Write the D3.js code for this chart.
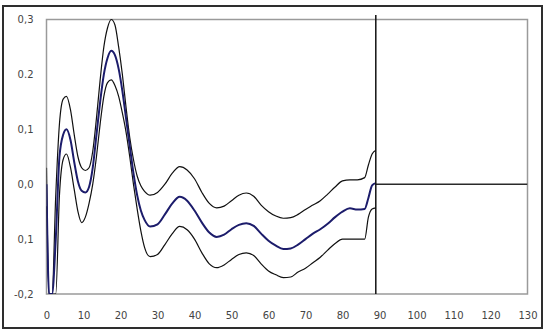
<!DOCTYPE html>
<html>
<head>
<meta charset="utf-8">
<script src="https://cdn.jsdelivr.net/npm/d3@7"></script>
<style>
  html, body { margin: 0; padding: 0; background: #fff; }
  svg { display: block; }
  .tick text { font-family: "DejaVu Sans", Verdana, sans-serif; font-size: 10px; fill: #444; }
</style>
</head>
<body>
<svg id="chart" width="545" height="331"></svg>
<script>
// Sample positions shared by the three series
const xValues = [0, 0.7, 1.5, 2.5, 3.5, 4.5, 5.4, 6.5, 7.5, 8.5, 9.5, 10.5, 11.5, 12.5, 13.5, 14.5,
  15.5, 16.5, 17.5, 18.5, 19.5, 20.5, 21.5, 22.5, 23.5, 24.5, 25.5, 26.5, 28, 30, 32, 34, 36, 38,
  40, 42, 44, 46, 48, 50, 52, 54, 56, 58, 60, 62, 64, 66, 68, 70, 72, 74, 76, 78, 80, 82, 84, 86,
  87, 88, 89];

// Upper confidence band
const upperValues = [0.03, -0.2, -0.2, -0.02, 0.11, 0.155, 0.16, 0.135, 0.09, 0.05, 0.03, 0.025,
  0.03, 0.06, 0.12, 0.19, 0.25, 0.285, 0.3, 0.29, 0.25, 0.2, 0.14, 0.085, 0.045, 0.015, -0.003,
  -0.013, -0.02, -0.015, 0.0, 0.02, 0.032, 0.026, 0.01, -0.015, -0.035, -0.043, -0.04, -0.03,
  -0.02, -0.016, -0.022, -0.038, -0.05, -0.058, -0.062, -0.061, -0.055, -0.046, -0.038, -0.03,
  -0.018, -0.005, 0.006, 0.008, 0.008, 0.012, 0.035, 0.055, 0.062];

// Mean response
const meanValues = [0.0, -0.2, -0.2, -0.1, 0.05, 0.09, 0.1, 0.08, 0.04, 0.005, -0.012, -0.015,
  -0.005, 0.03, 0.09, 0.15, 0.2, 0.23, 0.243, 0.235, 0.21, 0.17, 0.12, 0.07, 0.02, -0.02, -0.048,
  -0.065, -0.077, -0.073, -0.055, -0.035, -0.023, -0.03, -0.048, -0.07, -0.088, -0.096, -0.092,
  -0.082, -0.074, -0.071, -0.076, -0.09, -0.103, -0.112, -0.118, -0.117, -0.11, -0.1, -0.09,
  -0.082, -0.072, -0.06, -0.05, -0.044, -0.046, -0.045, -0.025, -0.002, 0.002];

// Lower confidence band
const lowerValues = [-0.04, -0.2, -0.2, -0.2, -0.02, 0.045, 0.055, 0.03, -0.01, -0.05, -0.07, -0.06,
  -0.035, 0.0, 0.05, 0.11, 0.16, 0.185, 0.19, 0.18, 0.16, 0.13, 0.095, 0.05, 0.0, -0.045, -0.085,
  -0.115, -0.132, -0.128, -0.11, -0.09, -0.077, -0.083, -0.1, -0.125, -0.145, -0.152, -0.147,
  -0.137, -0.128, -0.125, -0.13, -0.145, -0.158, -0.165, -0.17, -0.169, -0.16, -0.153, -0.143,
  -0.133, -0.12, -0.108, -0.1, -0.1, -0.1, -0.1, -0.06, -0.045, -0.043];

// Cut-off marker and the flat tail of the mean beyond it
const cutoffX = 89;
const tailX = [89, 130];
const tailValues = [0, 0];

// Axis ticks
const xTicks = [0, 10, 20, 30, 40, 50, 60, 70, 80, 90, 100, 110, 120, 130];
const yTicks = [-0.2, -0.1, 0.0, 0.1, 0.2, 0.3];
const yTickLabels = ["-0,2", "0,1", "0,0", "0,1", "0.2", "0,3"];

const svg = d3.select("#chart");
const plot = { left: 46.5, right: 527.5, top: 19.5, bottom: 294 };

const x = d3.scaleLinear().domain([0, 130]).range([plot.left, plot.right]);
const y = d3.scaleLinear().domain([-0.2, 0.3]).range([plot.bottom, plot.top]);

// Outer frame
svg.append("rect")
  .attr("x", 3).attr("y", 6).attr("width", 539).attr("height", 322)
  .attr("fill", "#fff").attr("stroke", "#2e2e2e").attr("stroke-width", 2);

// Plot area
svg.append("rect")
  .attr("x", plot.left).attr("y", plot.top)
  .attr("width", plot.right - plot.left).attr("height", plot.bottom - plot.top)
  .attr("fill", "#fff").attr("stroke", "#9a9a9a").attr("stroke-width", 1.5);

svg.append("defs").append("clipPath").attr("id", "plotClip")
  .append("rect")
  .attr("x", plot.left).attr("y", plot.top - 5)
  .attr("width", plot.right - plot.left).attr("height", plot.bottom - plot.top + 5);

// Axes (labels only)
const xAxis = d3.axisBottom(x).tickValues(xTicks).tickSize(0).tickPadding(0)
  .tickFormat(d => String(d));
const gx = svg.append("g").attr("transform", `translate(0,${plot.bottom + 16})`).call(xAxis);
gx.select(".domain").remove();
gx.selectAll("text").attr("dy", "0.32em").attr("y", 6);

const yAxis = d3.axisLeft(y).tickValues(yTicks).tickSize(0).tickPadding(0)
  .tickFormat((d, i) => yTickLabels[i]);
const gy = svg.append("g").attr("transform", `translate(${plot.left - 13},0)`).call(yAxis);
gy.select(".domain").remove();

// Series
const pts = vals => xValues.map((v, i) => [v, vals[i]]);
const line = d3.line().x(d => x(d[0])).y(d => y(d[1])).curve(d3.curveMonotoneX);
const straight = d3.line().x(d => x(d[0])).y(d => y(d[1]));

const g = svg.append("g").attr("clip-path", "url(#plotClip)");

g.append("path").datum(pts(upperValues)).attr("d", line)
  .attr("fill", "none").attr("stroke", "#111").attr("stroke-width", 1.2);
g.append("path").datum(pts(lowerValues)).attr("d", line)
  .attr("fill", "none").attr("stroke", "#111").attr("stroke-width", 1.2);
g.append("path").datum(pts(meanValues)).attr("d", line)
  .attr("fill", "none").attr("stroke", "#1c1c6b").attr("stroke-width", 2);

// Mean tail
g.append("path").datum(tailX.map((v, i) => [v, tailValues[i]])).attr("d", straight)
  .attr("fill", "none").attr("stroke", "#2a2a2a").attr("stroke-width", 1.5);

// Cut-off marker
svg.append("path").datum([[cutoffX, 0.308], [cutoffX, -0.2]]).attr("d", straight)
  .attr("fill", "none").attr("stroke", "#111").attr("stroke-width", 1.5);
</script>
</body>
</html>
